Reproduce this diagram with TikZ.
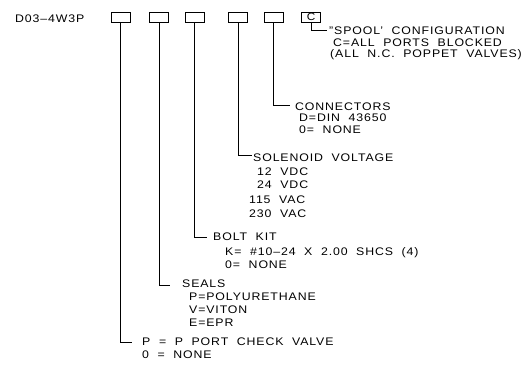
\documentclass[tikz,border=0pt]{standalone}
\usepackage{fontspec}
\setmainfont{Liberation Sans}[LetterSpace=8,WordSpace=2,FakeStretch=1.12]
\usepackage{tikz}

\tikzset{
  slot/.style={draw,line width=0.8pt,minimum width=19pt,minimum height=10pt,inner sep=0pt,font=\fontsize{10.5}{10}\selectfont},
  code/.style={anchor=base west,inner sep=0pt,font=\fontsize{11}{12}\selectfont},
  lead/.style={line width=0.8pt}
}

\begin{document}
\begin{tikzpicture}[x=1pt,y=-1pt]
        \useasboundingbox (0,0) rectangle (529,376);
        % model code and option boxes
        \node[code] (model) at (15,22.5) {D03--4W3P};
        \node[slot] (b1) at (120.5,17) {};
        \node[slot] (b2) at (159,17) {};
        \node[slot] (b3) at (194.5,17) {};
        \node[slot] (b4) at (238,17) {};
        \node[slot] (b5) at (273.5,17) {};
        \node[slot] (b6) at (311,17) {C};
        % ends of the leaders
        \coordinate (e6) at (327,30);
        \coordinate (e5) at (290,105);
        \coordinate (e4) at (252,155);
        \coordinate (e3) at (207,237);
        \coordinate (e2) at (170,285);
        \coordinate (e1) at (132,342);
        \foreach \i in {1,...,6}{\draw[lead] (b\i.south) |- (e\i);}
        % spool
        \node[code] (spool) at (329,34.5) {"SPOOL' CONFIGURATION};
        \node[code] at (333,46) {C=ALL PORTS BLOCKED};
        \node[code] at (330,57.5) {(ALL N.C. POPPET VALVES)};
        % connectors
        \node[code] (conn) at (295,110) {CONNECTORS};
        \node[code] at (299,121.5) {D=DIN 43650};
        \node[code] at (299,133.5) {0= NONE};
        % solenoid
        \node[code] (sol) at (253,161) {SOLENOID VOLTAGE};
        \node[code] at (257,175.5) {12 VDC};
        \node[code] at (257,188.5) {24 VDC};
        \node[code] at (249,203) {115 VAC};
        \node[code] at (249,217) {230 VAC};
        % bolt kit
        \node[code] (bolt) at (213,240.5) {BOLT KIT};
        \node[code] at (225,255) {K= \#10--24 X 2.00 SHCS (4)};
        \node[code] at (225,268.5) {0= NONE};
        % seals
        \node[code] (seals) at (182,287.5) {SEALS};
        \node[code] at (189,300.5) {P=POLYURETHANE};
        \node[code] at (189,313.5) {V=VITON};
        \node[code] at (189,326.5) {E=EPR};
        % check valve
        \node[code] (pcv) at (142,345.5) {P = P PORT CHECK VALVE};
        \node[code] at (142,358.5) {0 = NONE};
      \end{tikzpicture}
\end{document}
